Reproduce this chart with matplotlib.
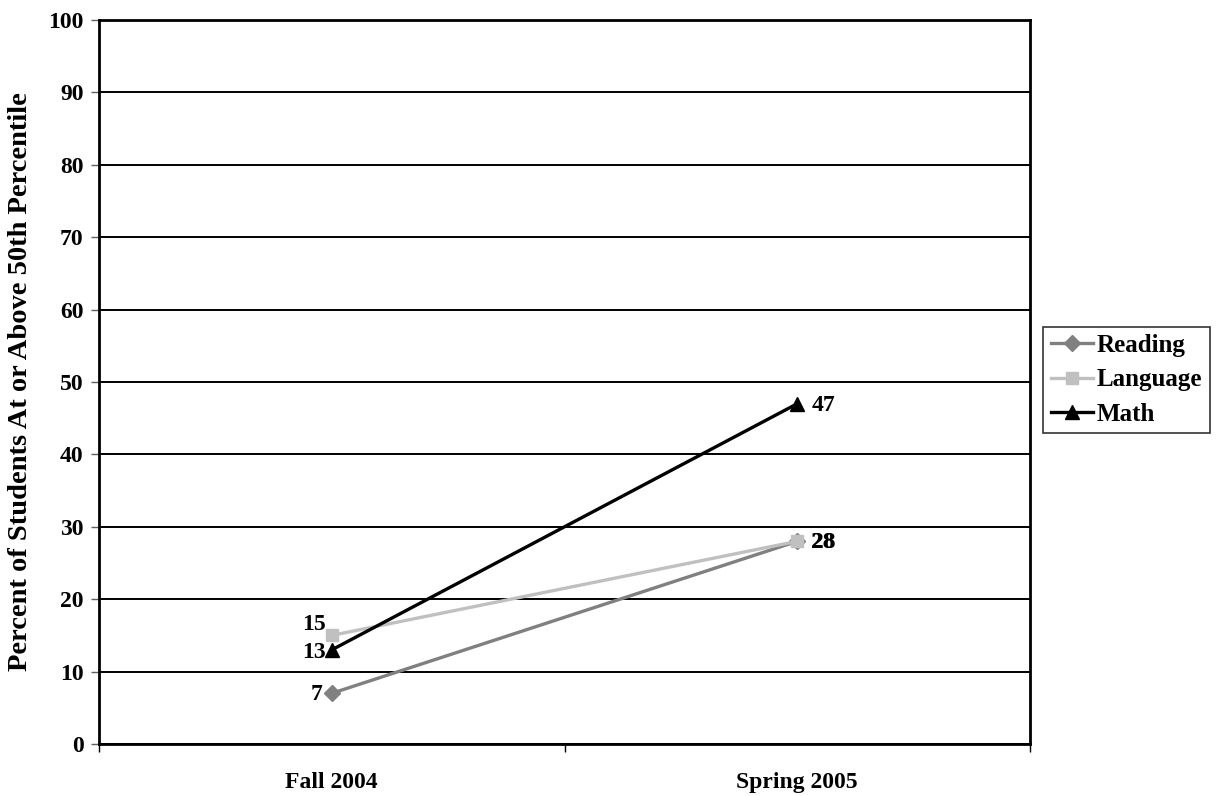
import matplotlib.pyplot as plt

plt.rcParams['font.family'] = ['Liberation Serif', 'DejaVu Serif']
plt.rcParams['font.weight'] = 'bold'

categories = ['Fall 2004', 'Spring 2005']
reading = [7, 28]
language = [15, 28]
math = [13, 47]
yticks = list(range(0, 101, 10))

fig = plt.figure(figsize=(12.16, 7.96), dpi=100)
ax = fig.add_axes([99 / 1216, 1 - 744 / 796, 931 / 1216, 724 / 796])

x = list(range(len(categories)))
ax.plot(x, reading, color='#808080', lw=2.4, marker='D', ms=8, label='Reading', zorder=3)
ax.plot(x, language, color='#c0c0c0', lw=2.4, marker='s', ms=9, label='Language', zorder=3)
ax.plot(x, math, color='black', lw=2.4, marker='^', ms=10, label='Math', zorder=4)

# etiquetas de datos
fs = 17
lbl = dict(fontsize=fs, fontweight='bold', va='center')
ax.annotate(str(reading[0]), (x[0], reading[0]), xytext=(-7, -1), textcoords='offset points', ha='right', **lbl)
ax.annotate(str(language[0]), (x[0], language[0]), xytext=(-4, 8), textcoords='offset points', ha='right', **lbl)
ax.annotate(str(math[0]), (x[0], math[0]), xytext=(-4, -2), textcoords='offset points', ha='right', **lbl)
ax.annotate(str(math[1]), (x[1], math[1]), xytext=(10, -1), textcoords='offset points', ha='left', **lbl)
ax.annotate(str(reading[1]), (x[1], reading[1]), xytext=(10, -1), textcoords='offset points', ha='left', **lbl)
ax.annotate(str(language[1]), (x[1], language[1]), xytext=(10.6, -1), textcoords='offset points', ha='left', **lbl)

ax.set_xlim(-0.5, 1.5)
ax.set_ylim(0, 100)
ax.set_yticks(yticks)
ax.set_yticklabels([str(t) for t in yticks], fontsize=fs, fontweight='bold')
ax.set_xticks([-0.5, 0.5, 1.5])
ax.set_xticklabels([])
ax.set_xticks(x, minor=True)
ax.set_xticklabels(categories, minor=True, fontsize=fs, fontweight='bold')
ax.tick_params(axis='x', which='minor', length=0, pad=20)
ax.tick_params(axis='x', which='major', length=6, width=1, color='black', direction='out')
ax.tick_params(axis='y', length=6, width=1, color='#606060', direction='out', pad=5)

ax.grid(axis='y', color='black', lw=1.4)
ax.set_axisbelow(True)
for s in ax.spines.values():
    s.set_color('black')
    s.set_linewidth(2)

ax.set_ylabel('Percent of Students At or Above 50th Percentile', fontsize=20.5, fontweight='bold', labelpad=11)

leg = ax.legend(loc='center left', bbox_to_anchor=(1043 / 1216, 1 - 380 / 796),
                bbox_transform=fig.transFigure, frameon=True, fancybox=False,
                borderaxespad=0, handlelength=1.7, handletextpad=0.15, borderpad=0.3,
                labelspacing=0.45, prop={'weight': 'bold', 'size': 18})
leg.get_frame().set_edgecolor('black')
leg.get_frame().set_linewidth(1.2)

fig.savefig('out.png', dpi=100)
